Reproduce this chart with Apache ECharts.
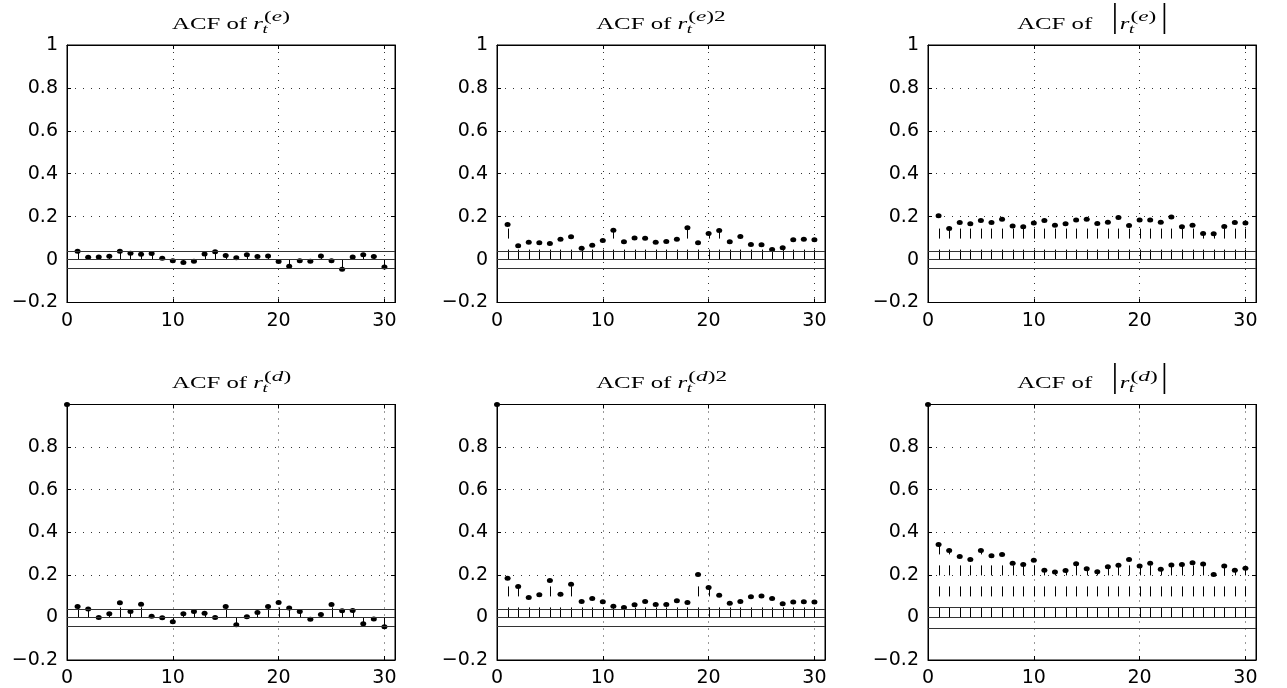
<!DOCTYPE html>
<html>
<head>
<meta charset="utf-8">
<script src="https://cdn.jsdelivr.net/npm/echarts@6/dist/echarts.min.js"></script>
<style>
html,body{margin:0;padding:0;background:#fff;}
#chart{width:1287px;height:688px;}
</style>
</head>
<body>
<div id="chart"></div>
<script>
// ---- data ----
const lagsE = [1,2,3,4,5,6,7,8,9,10,11,12,13,14,15,16,17,18,19,20,21,22,23,24,25,26,27,28,29,30];
const lagsD = [0,1,2,3,4,5,6,7,8,9,10,11,12,13,14,15,16,17,18,19,20,21,22,23,24,25,26,27,28,29,30];

const acfRe = [0.039,0.011,0.012,0.016,0.039,0.030,0.025,0.028,0.006,-0.005,-0.014,-0.008,0.026,0.036,0.019,0.008,0.023,0.014,0.017,-0.009,-0.031,-0.006,-0.008,0.017,-0.005,-0.045,0.012,0.022,0.014,-0.034];
const acfRe2 = [0.164,0.065,0.081,0.079,0.075,0.095,0.106,0.053,0.067,0.089,0.137,0.083,0.101,0.100,0.081,0.084,0.095,0.148,0.078,0.121,0.136,0.083,0.107,0.070,0.069,0.047,0.055,0.092,0.095,0.093];
const acfAbsRe = [0.204,0.145,0.173,0.167,0.182,0.173,0.188,0.157,0.153,0.170,0.182,0.160,0.167,0.184,0.188,0.168,0.174,0.196,0.159,0.184,0.185,0.174,0.198,0.153,0.160,0.121,0.120,0.154,0.173,0.170];

const acfRd = [1,0.051,0.040,0.000,0.017,0.069,0.028,0.062,0.006,-0.002,-0.020,0.017,0.028,0.019,0.000,0.051,-0.034,0.003,0.023,0.051,0.070,0.044,0.028,-0.009,0.014,0.061,0.031,0.033,-0.030,-0.008,-0.044];
const acfRd2 = [1,0.184,0.145,0.093,0.106,0.173,0.109,0.156,0.075,0.089,0.073,0.053,0.047,0.059,0.075,0.061,0.061,0.078,0.070,0.202,0.140,0.104,0.067,0.075,0.097,0.101,0.089,0.064,0.072,0.073,0.072];
const acfAbsRd = [1,0.342,0.314,0.286,0.272,0.314,0.290,0.296,0.254,0.248,0.268,0.221,0.213,0.220,0.252,0.229,0.215,0.238,0.245,0.272,0.241,0.254,0.226,0.246,0.248,0.257,0.251,0.202,0.241,0.221,0.231];

const confBand = [0.038, 0.038, 0.040, 0.036, 0.038, 0.047];

const xTickValues = [0, 10, 20, 30];
const yTickValues = [-0.2, 0, 0.2, 0.4, 0.6, 0.8, 1];

const titleLetters = ['e','e','e','d','d','d'];
const titleKinds = ['plain','sq','abs','plain','sq','abs'];

// ---- layout ----
const colLeft = [67, 497, 928];
const rowTop = [45, 404.5];
const gridW = 328, gridH = 257.5;

const panels = [
  {lags: lagsE, vals: acfRe},
  {lags: lagsE, vals: acfRe2},
  {lags: lagsE, vals: acfAbsRe},
  {lags: lagsD, vals: acfRd},
  {lags: lagsD, vals: acfRd2},
  {lags: lagsD, vals: acfAbsRd}
];

const tickFont = 'DejaVu Sans';
function fmtY(v, showOne) {
  const r = Math.round(v * 10) / 10;
  if (Math.abs(r - 1) < 1e-9 && !showOne) return '';
  if (yTickValues.every(t => Math.abs(t - r) > 1e-9)) return '';
  let s = String(r);
  if (r < 0) s = '\u2212' + String(-r);
  return s;
}

const grids = [], xAxes = [], yAxes = [], series = [], graphics = [];
const xTop = [], yRight = [];

panels.forEach((p, i) => {
  const row = Math.floor(i / 3), col = i % 3;
  grids.push({left: colLeft[col], top: rowTop[row], width: gridW, height: gridH,
    show: true, borderColor: '#000', borderWidth: 1, backgroundColor: '#fff'});
  xAxes.push({
    type: 'value', gridIndex: i, min: 0, max: 31, interval: 10,
    axisLine: {show: true, onZero: false, lineStyle: {color: '#000', width: 1}},
    axisTick: {show: true, inside: true, length: 4, lineStyle: {color: '#000'}},
    axisLabel: {show: true, color: '#000', fontFamily: tickFont, fontSize: 19, margin: 9,
      formatter: v => (xTickValues.indexOf(v) >= 0 ? String(v) : '')},
    splitLine: {show: true, lineStyle: {color: '#333', width: 1, type: [1, 6]}}
  });
  xTop.push({
    type: 'value', gridIndex: i, min: 0, max: 31, interval: 10, position: 'top',
    axisLine: {show: true, onZero: false, lineStyle: {color: '#000', width: 1}},
    axisTick: {show: true, inside: true, length: 4, lineStyle: {color: '#000'}},
    axisLabel: {show: false}, splitLine: {show: false}
  });
  const showOne = row === 0;
  yAxes.push({
    type: 'value', gridIndex: i, min: -0.2, max: 1, interval: 0.2,
    axisLine: {show: true, onZero: false, lineStyle: {color: '#000', width: 1}},
    axisTick: {show: true, inside: true, length: 4, lineStyle: {color: '#000'}},
    axisLabel: {show: true, color: '#000', fontFamily: tickFont, fontSize: 19, margin: 9,
      formatter: v => fmtY(v, showOne)},
    splitLine: {show: true, lineStyle: {color: '#333', width: 1, type: [1, 7]}}
  });
  yRight.push({
    type: 'value', gridIndex: i, min: -0.2, max: 1, interval: 0.2, position: 'right',
    axisLine: {show: true, onZero: false, lineStyle: {color: '#000', width: 1}},
    axisTick: {show: true, inside: true, length: 4, lineStyle: {color: '#000'}},
    axisLabel: {show: false}, splitLine: {show: false}
  });

  const data = p.lags.map((l, k) => [l, p.vals[k]]);
  const c = confBand[i];
  series.push({
    type: 'custom', xAxisIndex: i, yAxisIndex: i, data: data, silent: true,
    encode: {x: 0, y: 1}, z: 3,
    renderItem: (params, api) => {
      const x = api.value(0), v = api.value(1);
      const a = api.coord([x, 0]), b = api.coord([x, v]);
      const px = Math.round(a[0]) + 0.5;
      return {type: 'line', shape: {x1: px, y1: a[1], x2: px, y2: b[1]},
        style: {stroke: '#000', lineWidth: 1, lineDash: [10, 11], fill: null}};
    }
  });
  series.push({
    type: 'scatter', xAxisIndex: i, yAxisIndex: i, data: data, silent: true,
    symbol: 'circle', symbolSize: [6, 5], z: 4,
    itemStyle: {color: '#000', opacity: 1},
    markLine: {
      silent: true, symbol: ['none', 'none'], animation: false,
      label: {show: false},
      lineStyle: {type: 'solid', color: '#333', width: 1},
      data: [{yAxis: c}, {yAxis: 0}, {yAxis: -c}]
    }
  });

  // ---- title ----
  const cx = colLeft[col] + gridW / 2;
  const off = row * 359.5;
  const S = 1.55;
  const kind = titleKinds[i], letter = titleLetters[i];
  const supText = '{p|(}{i|' + letter + '}{p|)}' + (kind === 'sq' ? '{p|2}' : '');
  const supW = (kind === 'sq' ? 24.2 : 16.7) * S;
  const pieces = [];
  pieces.push({t: 'text', text: 'ACF of', font: '16px "Liberation Serif"', w: 48.4 * S, base: 30});
  pieces.push({t: 'gap', w: (kind === 'abs' ? 13 : 4) * S});
  if (kind === 'abs') { pieces.push({t: 'bar', w: 5}); pieces.push({t: 'gap', w: 1.5 * S}); }
  pieces.push({t: 'text', text: 'r', font: 'italic 16px "Liberation Serif"', w: 6.2 * S, base: 30});
  pieces.push({t: 'scripts', w: supW + 0.8 * S});
  if (kind === 'abs') { pieces.push({t: 'gap', w: 3.5 * S}); pieces.push({t: 'bar', w: 5}); }
  const total = pieces.reduce((s, q) => s + q.w, 0);
  let pos = cx - total / 2;
  pieces.forEach(q => {
    if (q.t === 'text') {
      graphics.push({type: 'text', x: pos, y: q.base - 0.33 * 16 + off, scaleX: S, silent: true,
        style: {text: q.text, font: q.font, fill: '#000', align: 'left', verticalAlign: 'middle'}});
    } else if (q.t === 'scripts') {
      graphics.push({type: 'text', x: pos + 0.8 * S, y: 22.5 - 0.33 * 15 + off, scaleX: S, silent: true,
        style: {text: supText, fill: '#000', align: 'left', verticalAlign: 'middle',
          rich: {
            p: {fontFamily: 'Liberation Serif', fontSize: 15, fill: '#000'},
            i: {fontFamily: 'Liberation Serif', fontStyle: 'italic', fontSize: 15, fill: '#000'}
          }}});
      graphics.push({type: 'text', x: pos - 0.2 * S, y: 33.5 - 0.33 * 12 + off, scaleX: S, silent: true,
        style: {text: 't', font: 'italic 12px "Liberation Serif"', fill: '#000', align: 'left', verticalAlign: 'middle'}});
    } else if (q.t === 'bar') {
      graphics.push({type: 'text', x: pos + 2.5, y: 18.5 + off, silent: true,
        style: {text: '|', font: '34px "Liberation Serif"', fill: '#000', align: 'center', verticalAlign: 'middle'}});
    }
    pos += q.w;
  });
});

const chart = echarts.init(document.getElementById('chart'), null, {renderer: 'canvas'});
chart.setOption({
  animation: false,
  backgroundColor: '#fff',
  grid: grids,
  xAxis: xAxes.concat(xTop),
  yAxis: yAxes.concat(yRight),
  series: series,
  graphic: graphics
});
</script>
</body>
</html>
